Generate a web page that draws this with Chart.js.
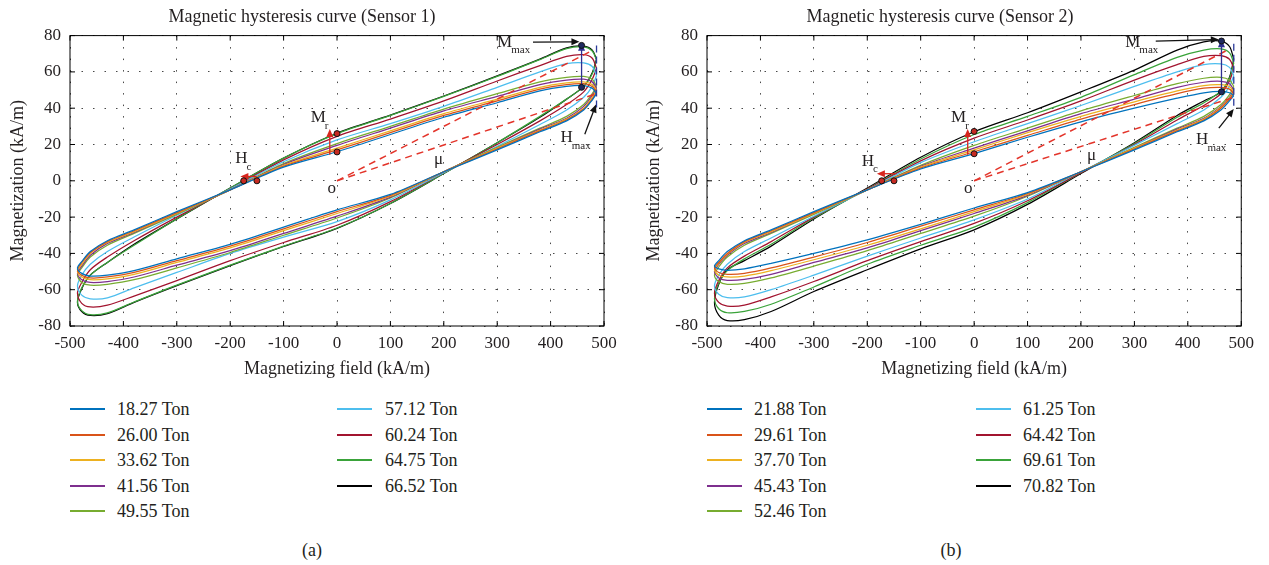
<!DOCTYPE html>
<html>
<head>
<meta charset="utf-8">
<script src="https://cdn.jsdelivr.net/npm/chart.js@4.4.1/dist/chart.umd.min.js"></script>
<style>
  body { margin: 0; background: #fff; width: 1269px; height: 565px; position: relative; overflow: hidden;
         font-family: 'Liberation Serif', 'Times New Roman', serif; color: #231f20; }
  canvas { position: absolute; top: 0; }
  .key-line { position: absolute; height: 2px; width: 35px; }
  .key-text { position: absolute; font-size: 18px; line-height: 22px; white-space: nowrap; }
  .caption { position: absolute; font-size: 18px; line-height: 22px; transform: translateX(-50%); }
</style>
</head>
<body>
<canvas id="chart1" width="625" height="390" style="left:0px"></canvas>
<canvas id="chart2" width="625" height="390" style="left:636px"></canvas>
<div id="legends"></div>
<script>
// magnetizing field (kA/m) visited around every loop: descending branch, then ascending branch
const fieldLoop = [486, 478, 462, 430, 380, 300, 200, 100, 0, -100, -200, -300, -380, -430, -462, -478, -486,
                   -478, -462, -430, -380, -300, -200, -100, 0, 100, 200, 300, 380, 430, 462, 478, 486];

const loads1 = ['18.27 Ton', '26.00 Ton', '33.62 Ton', '41.56 Ton', '49.55 Ton', '57.12 Ton', '60.24 Ton', '64.75 Ton', '66.52 Ton'];
const loads2 = ['21.88 Ton', '29.61 Ton', '37.70 Ton', '45.43 Ton', '52.46 Ton', '61.25 Ton', '64.42 Ton', '69.61 Ton', '70.82 Ton'];
const colors = ['#0072BD', '#D95319', '#EDB120', '#7E2F8E', '#77AC30', '#4DBEEE', '#A2142F', '#3AA33A', '#000000'];

// magnetization (kA/m), sensor 1
const s1_18 = [48, 51, 52.5, 52, 49.5, 43, 35, 25.5, 16, 7.5, -5, -17, -27, -33, -39, -44.5, -48,
               -51, -52.5, -52, -49.5, -43, -35, -25.5, -16, -7.5, 5, 17, 27, 33, 39, 44.5, 48];
const s1_26 = [49, 52, 53.5, 53, 50.5, 44, 36, 26.5, 17, 8, -5, -17.5, -27.5, -33.5, -39.5, -45, -49,
               -52, -53.5, -53, -50.5, -44, -36, -26.5, -17, -8, 5, 17.5, 27.5, 33.5, 39.5, 45, 49];
const s1_33 = [50, 53, 54.5, 54, 51.5, 45, 37, 27.5, 18, 8.5, -5, -18, -28, -34, -40, -46, -50,
               -53, -54.5, -54, -51.5, -45, -37, -27.5, -18, -8.5, 5, 18, 28, 34, 40, 46, 50];
const s1_41 = [51, 54.5, 56, 55.5, 53, 46.5, 38.5, 29, 19.5, 9, -5, -18, -28.5, -34.5, -41, -47, -51,
               -54.5, -56, -55.5, -53, -46.5, -38.5, -29, -19.5, -9, 5, 18, 28.5, 34.5, 41, 47, 51];
const s1_49 = [52, 56, 57.5, 57, 54.5, 48, 39.5, 30, 20.5, 9.5, -5, -18.5, -29, -35.5, -42, -48, -52,
               -56, -57.5, -57, -54.5, -48, -39.5, -30, -20.5, -9.5, 5, 18.5, 29, 35.5, 42, 48, 52];
const s1_57 = [58, 63, 65, 64.5, 60, 51.5, 41, 31.5, 22.5, 10.5, -4.5, -19, -31, -39, -46, -52, -58,
               -63, -65, -64.5, -59, -50.5, -40, -31, -22.5, -10.5, 4.5, 19, 31, 39, 46, 52, 58];
const s1_60 = [62, 67.5, 69.5, 68.5, 63.5, 55, 44, 34, 24.5, 11.5, -4.5, -20, -33, -42, -49, -56, -62,
               -67.5, -69.5, -68.5, -63.5, -55, -44, -34, -24.5, -11.5, 4.5, 20, 33, 42, 49, 56, 62];
const s1_64 = [66.5, 71.5, 73.8, 72.8, 66.8, 57.5, 46.5, 36, 26, 12.5, -4, -21, -35.5, -45, -52, -59, -66.5,
               -71.5, -73.8, -72.8, -66.8, -57.5, -46.5, -36, -26, -12.5, 4, 21, 35.5, 45, 52, 59, 66.5];
const s1_66 = [67, 72, 74.2, 73.2, 67, 57.8, 46.7, 36.2, 26.2, 12.5, -4, -21, -35, -45, -52, -59.5, -67,
               -72, -74.2, -73.2, -67, -57.8, -46.7, -36.2, -26.2, -12.5, 4, 21, 35, 45, 52, 59.5, 67];

// magnetization (kA/m), sensor 2
const s2_21 = [47, 48.5, 49.3, 48.5, 45.5, 40, 32.5, 24, 15, 6.5, -5, -17, -27, -33, -39, -44, -47,
               -48.5, -49.3, -48.5, -45.5, -40, -32.5, -24, -15, -6.5, 5, 17, 27, 33, 39, 44, 47];
const s2_29 = [48, 50.5, 51.5, 51, 48, 42, 34, 25, 16, 7, -5, -17.5, -27.5, -33.5, -40, -45, -48,
               -50.5, -51.5, -51, -48, -42, -34, -25, -16, -7, 5, 17.5, 27.5, 33.5, 40, 45, 48];
const s2_37 = [49, 52, 53, 52.5, 49.5, 43.5, 35.5, 26.5, 17, 7.5, -5, -18, -28, -34, -40.5, -45.5, -49,
               -52, -53, -52.5, -49.5, -43.5, -35.5, -26.5, -17, -7.5, 5, 18, 28, 34, 40.5, 45.5, 49];
const s2_45 = [50, 53.5, 54.8, 54.3, 51.5, 45, 37, 27.5, 18, 8, -5, -18, -28.5, -34.5, -41, -46, -50,
               -53.5, -54.8, -54.3, -51.5, -45, -37, -27.5, -18, -8, 5, 18, 28.5, 34.5, 41, 46, 50];
const s2_52 = [52, 55.5, 57, 56.5, 53.5, 47, 38.5, 29, 19.5, 8.5, -5, -18.5, -29, -35.5, -42, -47.5, -52,
               -55.5, -57, -56.5, -53.5, -47, -38.5, -29, -19.5, -8.5, 5, 18.5, 29, 35.5, 42, 47.5, 52];
const s2_61 = [58, 62.5, 64.4, 64, 60, 52, 41.5, 31.5, 21.5, 10, -5, -19.5, -31.5, -39, -46, -52, -58,
               -62.5, -64.4, -64, -60, -52, -41.5, -31.5, -21.5, -10, 5, 19.5, 31.5, 39, 46, 52, 58];
const s2_64 = [62, 67, 69, 68.5, 64, 55.5, 44, 33.5, 23.5, 11, -4.5, -20, -33.5, -41.5, -48, -55, -62,
               -67, -69, -68.5, -64, -55.5, -44, -33.5, -23.5, -11, 4.5, 20, 33.5, 41.5, 48, 55, 62];
const s2_69 = [65, 70.5, 72.7, 72, 68, 58.5, 46, 35.5, 25.5, 12, -4.5, -20.5, -35, -43, -49.5, -56.5, -65,
               -70.5, -72.7, -72, -68, -58.5, -46, -35.5, -25.5, -12, 4.5, 20.5, 35, 43, 49.5, 56.5, 65];
const s2_70 = [67, 74, 77, 76.5, 72, 61, 49, 37.5, 27, 13, -4, -21, -36, -44, -49, -57, -67,
               -74, -77, -76.5, -72, -61, -49, -37.5, -27, -13, 4, 21, 36, 44, 49, 57, 67];

const sensor1 = [s1_18, s1_26, s1_33, s1_41, s1_49, s1_57, s1_60, s1_64, s1_66];
const sensor2 = [s2_21, s2_29, s2_37, s2_45, s2_52, s2_61, s2_64, s2_69, s2_70];

// annotation points, in (field, magnetization)
const notes1 = {
  refLines: [[0, 0, 475, 71.3], [0, 0, 486, 48]],
  hmaxLine: [486, 74.6, 486, 40.4],
  redArrows: [[-151, 2.4, -181, 2.4], [-13.5, 14.4, -13.5, 28.5]],
  blueArrows: [[458, 51.5, 458, 76]],
  blackArrows: [[367, 76.4, 454, 76.6], [464, 25.6, 485, 42]],
  redDots: [[-174.7, 0], [-150, 0], [0, 26], [0, 15.9]],
  blueDots: [[458, 74.6], [458, 51.5]],
  labels: [['M', 'max', 314, 76.4], ['M', 'r', -35, 34.7], ['H', 'c', -179, 12], ['H', 'max', 430, 23.6],
           ['o', '', -10, -4], ['\u03bc', '', 190, 11.6]]
};
const notes2 = {
  refLines: [[0, 0, 476, 72.3], [0, 0, 486, 46]],
  hmaxLine: [486, 75.5, 486, 40.5],
  redArrows: [[-146, 3.9, -182, 3.9], [-12, 14.3, -12, 28.5]],
  blueArrows: [[463, 49, 463, 78]],
  blackArrows: [[340, 77, 458, 77.8], [458, 29, 486, 39.5]],
  redDots: [[-173, 0], [-150, 0], [0, 27.2], [0, 14.9]],
  blueDots: [[463, 77], [463, 49]],
  labels: [['M', 'max', 297, 76.4], ['M', 'r', -29, 34.6], ['H', 'c', -199, 10.7], ['H', 'max', 427, 22.6],
           ['o', '', -11, -4], ['\u03bc', '', 220, 13.8]]
};

const ink = '#231f20';
const serif = "'Liberation Serif', 'Times New Roman', serif";
Chart.defaults.font.family = serif;
Chart.defaults.color = ink;

function arrow(ctx, x1, y1, x2, y2, color) {
  const a = Math.atan2(y2 - y1, x2 - x1);
  ctx.strokeStyle = color; ctx.fillStyle = color; ctx.lineWidth = 1.3; ctx.setLineDash([]);
  ctx.beginPath(); ctx.moveTo(x1, y1); ctx.lineTo(x2 - 5 * Math.cos(a), y2 - 5 * Math.sin(a)); ctx.stroke();
  ctx.beginPath();
  ctx.moveTo(x2, y2);
  ctx.lineTo(x2 - 8 * Math.cos(a) + 3.5 * Math.sin(a), y2 - 8 * Math.sin(a) - 3.5 * Math.cos(a));
  ctx.lineTo(x2 - 8 * Math.cos(a) - 3.5 * Math.sin(a), y2 - 8 * Math.sin(a) + 3.5 * Math.cos(a));
  ctx.closePath(); ctx.fill();
}

const framePlugin = {
  id: 'frame',
  afterDraw(chart) {
    const {ctx, chartArea: a} = chart;
    const sx = chart.scales.x, sy = chart.scales.y;
    ctx.save();
    ctx.strokeStyle = '#000'; ctx.lineWidth = 1; ctx.setLineDash([]);
    ctx.strokeRect(a.left, a.top, a.right - a.left, a.bottom - a.top);
    ctx.beginPath();
    sx.ticks.forEach(t => {
      const p = sx.getPixelForValue(t.value);
      ctx.moveTo(p, a.bottom); ctx.lineTo(p, a.bottom - 5);
      ctx.moveTo(p, a.top); ctx.lineTo(p, a.top + 5);
    });
    sy.ticks.forEach(t => {
      const p = sy.getPixelForValue(t.value);
      ctx.moveTo(a.left, p); ctx.lineTo(a.left + 5, p);
      ctx.moveTo(a.right, p); ctx.lineTo(a.right - 5, p);
    });
    ctx.stroke();
    ctx.restore();
  }
};

const notesPlugin = {
  id: 'notes',
  afterDatasetsDraw(chart, args, opts) {
    const n = opts.data;
    if (!n) return;
    const ctx = chart.ctx;
    const px = v => chart.scales.x.getPixelForValue(v);
    const py = v => chart.scales.y.getPixelForValue(v);
    ctx.save();
    // dashed lines from origin
    ctx.strokeStyle = '#E3342A'; ctx.lineWidth = 1.5; ctx.setLineDash([7, 5]);
    n.refLines.forEach(l => {
      ctx.beginPath(); ctx.moveTo(px(l[0]), py(l[1])); ctx.lineTo(px(l[2]), py(l[3])); ctx.stroke();
    });
    // Hmax marker
    ctx.strokeStyle = '#2B3A9A'; ctx.lineWidth = 1.3; ctx.setLineDash([7, 4]);
    ctx.beginPath(); ctx.moveTo(px(n.hmaxLine[0]), py(n.hmaxLine[1])); ctx.lineTo(px(n.hmaxLine[2]), py(n.hmaxLine[3])); ctx.stroke();
    n.redArrows.forEach(l => arrow(ctx, px(l[0]), py(l[1]), px(l[2]), py(l[3]), '#D7261E'));
    n.blueArrows.forEach(l => arrow(ctx, px(l[0]), py(l[1]), px(l[2]), py(l[3]), '#2E3192'));
    n.blackArrows.forEach(l => arrow(ctx, px(l[0]), py(l[1]), px(l[2]), py(l[3]), '#111'));
    ctx.setLineDash([]); ctx.lineWidth = 1; ctx.strokeStyle = '#111';
    n.redDots.forEach(d => {
      ctx.beginPath(); ctx.arc(px(d[0]), py(d[1]), 3, 0, Math.PI * 2);
      ctx.fillStyle = '#C62A22'; ctx.fill(); ctx.stroke();
    });
    n.blueDots.forEach(d => {
      ctx.beginPath(); ctx.arc(px(d[0]), py(d[1]), 3, 0, Math.PI * 2);
      ctx.fillStyle = '#1F2A60'; ctx.fill(); ctx.stroke();
    });
    // labels with subscripts
    ctx.fillStyle = ink; ctx.textBaseline = 'middle';
    n.labels.forEach(l => {
      ctx.font = '17px ' + serif; ctx.textAlign = 'center';
      const x = px(l[2]), y = py(l[3]);
      ctx.fillText(l[0], x, y);
      if (l[1]) {
        const w = ctx.measureText(l[0]).width;
        ctx.font = '11px ' + serif; ctx.textAlign = 'left';
        ctx.fillText(l[1], x + w / 2 - 1, y + 8);
      }
    });
    ctx.restore();
  }
};

function makeChart(id, title, series, loads, notes, padRight, yWidth) {
  return new Chart(document.getElementById(id), {
    type: 'scatter',
    data: {
      datasets: series.map((m, i) => ({
        label: loads[i],
        data: fieldLoop.map((h, k) => ({x: h, y: m[k]})),
        showLine: true, fill: false, borderColor: colors[i], borderWidth: 1.25,
        pointRadius: 0, tension: 0.3
      }))
    },
    options: {
      responsive: false, animation: false, devicePixelRatio: 1,
      layout: {padding: {left: 0, right: padRight, top: 0, bottom: 0}},
      plugins: {
        legend: {display: false}, tooltip: {enabled: false},
        title: {display: true, text: title, color: ink, font: {size: 18, weight: 'normal'}, padding: {top: 6, bottom: 8}},
        notes: {data: notes}
      },
      scales: {
        x: {
          type: 'linear', min: -500, max: 500,
          ticks: {stepSize: 100, color: ink, font: {size: 17}, padding: 7, maxRotation: 0},
          grid: {color: 'rgba(40,40,40,0.85)', lineWidth: 1, drawTicks: false},
          border: {display: false, dash: [1.5, 10]},
          title: {display: true, text: 'Magnetizing field (kA/m)', color: ink, font: {size: 18}, padding: 10},
          afterFit: s => { s.height = 64; }
        },
        y: {
          type: 'linear', min: -80, max: 80,
          ticks: {stepSize: 20, color: ink, font: {size: 17}, padding: 9},
          grid: {color: 'rgba(40,40,40,0.85)', lineWidth: 1, drawTicks: false},
          border: {display: false, dash: [1.5, 10]},
          title: {display: true, text: 'Magnetization (kA/m)', color: ink, font: {size: 18}, padding: 7},
          afterFit: s => { s.width = yWidth; }
        }
      }
    },
    plugins: [framePlugin, notesPlugin]
  });
}

makeChart('chart1', 'Magnetic hysteresis curve (Sensor 1)', sensor1, loads1, notes1, 21, 70);
makeChart('chart2', 'Magnetic hysteresis curve (Sensor 2)', sensor2, loads2, notes2, 17, 71);

// two-column keys under each panel
function buildKey(loads, lineX1, textX1, lineX2, textX2, captionX, captionText) {
  const host = document.getElementById('legends');
  loads.forEach((name, i) => {
    const col = i < 5 ? 0 : 1;
    const row = i < 5 ? i : i - 5;
    const cy = 409 + row * 25.5;
    const line = document.createElement('div');
    line.className = 'key-line';
    line.style.left = (col ? lineX2 : lineX1) + 'px';
    line.style.top = Math.round(cy - 1) + 'px';
    line.style.background = colors[i];
    host.appendChild(line);
    const txt = document.createElement('div');
    txt.className = 'key-text';
    txt.style.left = (col ? textX2 : textX1) + 'px';
    txt.style.top = Math.round(cy - 11) + 'px';
    txt.textContent = name;
    host.appendChild(txt);
  });
  const cap = document.createElement('div');
  cap.className = 'caption';
  cap.style.left = captionX + 'px';
  cap.style.top = '539px';
  cap.textContent = captionText;
  host.appendChild(cap);
}
buildKey(loads1, 70, 117, 337, 385, 312, '(a)');
buildKey(loads2, 707, 754, 976, 1023, 951, '(b)');
</script>
</body>
</html>
